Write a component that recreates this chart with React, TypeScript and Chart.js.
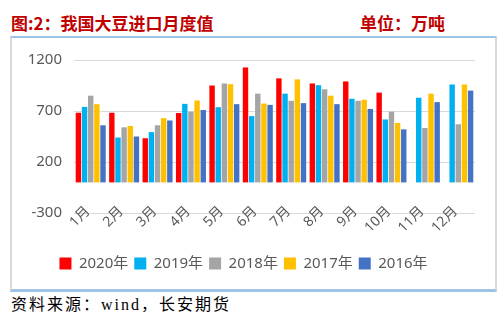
import React, { useEffect, useRef } from "react";
import { Chart, registerables } from "chart.js";

Chart.register(...registerables);

const months = ["1月", "2月", "3月", "4月", "5月", "6月", "7月", "8月", "9月", "10月", "11月", "12月"];
const y2020 = [683, 683, 433, 680, 950, 1127, 1020, 970, 990, 880, null, null];
const y2019 = [740, 440, 493, 770, 737, 650, 870, 953, 820, 617, 830, 960];
const y2018 = [850, 540, 560, 693, 970, 870, 800, 913, 800, 693, 533, 570];
const y2017 = [767, 553, 630, 803, 963, 773, 1010, 850, 810, 583, 870, 960];
const y2016 = [560, 450, 607, 710, 767, 760, 777, 767, 720, 520, 787, 900];
const seriesNames = ["2020年", "2019年", "2018年", "2017年", "2016年"];
const seriesColors = ["#FF0000", "#00B0F0", "#A5A5A5", "#FFC000", "#4472C4"];
const yTicks = [-300, 200, 700, 1200];

const FONT = "'Noto Sans', 'Noto Sans CJK SC', sans-serif";

const rotatedXLabels = {
  id: "rotatedXLabels",
  afterDraw(chart: any) {
    const xs = chart.scales.x;
    const ctx = chart.ctx;
    const bottom = chart.chartArea.bottom;
    ctx.save();
    ctx.fillStyle = "#595959";
    ctx.font = `14px ${FONT}`;
    ctx.textAlign = "right";
    ctx.textBaseline = "middle";
    xs.ticks.forEach((t: any, i: number) => {
      const x = xs.getPixelForTick(i);
      const label = xs.getLabelForValue(t.value);
      ctx.save();
      ctx.translate(x - 3, bottom - 4);
      ctx.rotate(-Math.PI / 4);
      ctx.fillText(label, 0, 0);
      ctx.restore();
    });
    ctx.restore();
  },
};

export default function App() {
  const ref = useRef<HTMLCanvasElement | null>(null);
  useEffect(() => {
    if (!ref.current) return;
    const data = [y2020, y2019, y2018, y2017, y2016];
    const chart = new Chart(ref.current, {
      type: "bar",
      data: {
        labels: months,
        datasets: seriesNames.map((n, i) => ({
          label: n,
          data: data[i] as any,
          backgroundColor: seriesColors[i],
          borderWidth: 0,
          categoryPercentage: 0.92,
          barPercentage: 0.88,
        })),
      },
      plugins: [rotatedXLabels],
      options: {
        animation: false,
        responsive: false,
        maintainAspectRatio: false,
        layout: { padding: { left: 0, right: 21, top: 21, bottom: 9 } },
        plugins: {
          tooltip: { enabled: false },
          legend: {
            position: "bottom",
            labels: {
              boxWidth: 12,
              boxHeight: 12,
              padding: 6,
              color: "#595959",
              font: { family: FONT, size: 15 },
            },
          },
        },
        scales: {
          x: {
            grid: { display: false, drawTicks: false },
            border: { display: false },
            ticks: { display: false },
            afterFit: (s: any) => {
              s.height = 37;
            },
          },
          y: {
            min: -300,
            max: 1200,
            afterBuildTicks: (s: any) => {
              s.ticks = yTicks.map((v) => ({ value: v }));
            },
            grid: { color: "#D9D9D9", lineWidth: 1, drawTicks: false },
            border: { display: false },
            ticks: {
              padding: 12,
              color: "#595959",
              font: { family: FONT, size: 15 },
              callback: (v: any) => String(v),
            },
            afterFit: (s: any) => {
              s.width = 62;
            },
          },
        },
      },
    });
    return () => chart.destroy();
  }, []);

  return (
    <div style={{ position: "absolute", left: 0, top: 0, width: 504, height: 324, background: "#fff", overflow: "hidden" }}>
      <div
        style={{
          position: "absolute",
          left: 11,
          top: 12,
          fontFamily: "'Noto Sans CJK SC', sans-serif",
          fontWeight: 700,
          fontSize: 17,
          color: "#C00000",
          lineHeight: "22px",
          whiteSpace: "nowrap",
        }}
      >
        图:2：我国大豆进口月度值
      </div>
      <div
        style={{
          position: "absolute",
          left: 360,
          top: 12,
          fontFamily: "'Noto Sans CJK SC', sans-serif",
          fontWeight: 700,
          fontSize: 17,
          color: "#C00000",
          lineHeight: "22px",
          whiteSpace: "nowrap",
        }}
      >
        单位：万吨
      </div>
      <div
        style={{
          position: "absolute",
          left: 10,
          top: 36,
          width: 483,
          height: 251,
          borderTop: "2px solid #9DC3E6",
          borderBottom: "3px solid #9DC3E6",
          borderLeft: "2px solid #D9D9D9",
          borderRight: "2px solid #D9D9D9",
        }}
      />
      <canvas
        ref={ref}
        width={484}
        height={251}
        style={{ position: "absolute", left: 12, top: 39, width: 484, height: 251 }}
      />
      <div
        style={{
          position: "absolute",
          left: 11,
          top: 294,
          fontFamily: "'Liberation Serif', 'Noto Sans CJK SC', serif",
          fontSize: 16,
          letterSpacing: 2,
          color: "#000",
          lineHeight: "22px",
          whiteSpace: "nowrap",
        }}
      >
        资料来源：wind，长安期货
      </div>
    </div>
  );
}
